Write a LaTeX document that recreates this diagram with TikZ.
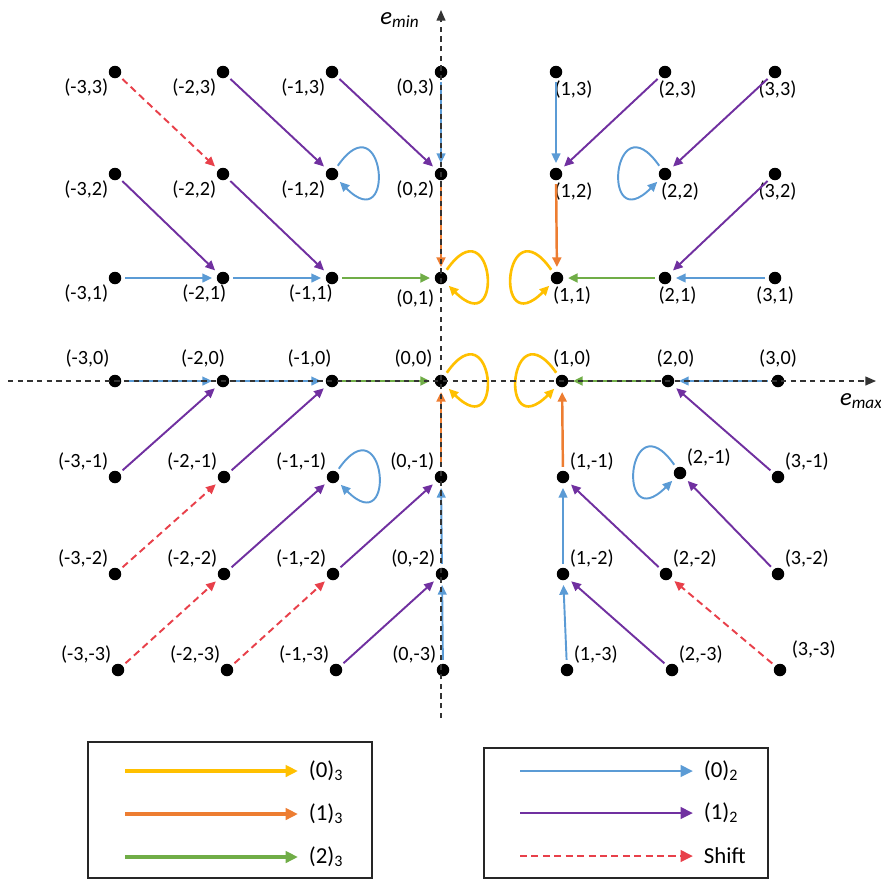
\documentclass[tikz,border=0pt]{standalone}
\usepackage{fontspec}
\setmainfont{Carlito}
\usepackage{xcolor}
\usepackage{tikz}
\usetikzlibrary{arrows.meta,positioning}
\definecolor{radixblue}{RGB}{91,155,213}
\definecolor{radixpurple}{RGB}{112,48,160}
\definecolor{radixred}{RGB}{232,64,74}
\definecolor{radixorange}{RGB}{237,125,49}
\definecolor{radixgreen}{RGB}{112,173,71}
\definecolor{radixyellow}{RGB}{255,192,0}
\tikzset{
  griddot/.style={
    circle,
    fill=black,
    inner sep=0pt,
    minimum size=0.25cm
  },
  gridlabel/.style={
    inner sep=1pt,
    font=\fontsize{11.5}{13}\selectfont
  },
  arrowbase/.style={
    -{Triangle[length=5.5pt,width=5pt]},
    line width=1.1pt,
    shorten <=2pt,
    shorten >=2.5pt
  },
  radixtwozero/.style={arrowbase, draw=radixblue},
  radixtwoone/.style={arrowbase, draw=radixpurple},
  shiftarrow/.style={arrowbase, draw=radixred, dash pattern=on 4pt off 2.5pt},
  radixthreezero/.style={arrowbase, draw=radixyellow, line width=1.5pt},
  radixthreeone/.style={arrowbase, draw=radixorange, line width=1.4pt},
  radixthreetwo/.style={arrowbase, draw=radixgreen, line width=1.6pt},
  loopright/.style={out=55, in=-45, distance=1.7cm},
  loopleft/.style={out=125, in=225, distance=1.7cm},
  axisline/.style={
    -{Triangle[length=6pt,width=5pt]},
    draw=black!80,
    line width=0.8pt,
    dash pattern=on 3pt off 2.5pt
  },
  axislabel/.style={inner sep=1pt, font=\fontsize{14}{16}\selectfont},
  legendbox/.style={draw=black!85, line width=0.9pt, inner sep=0pt},
  legendtext/.style={inner sep=2pt, anchor=west, font=\fontsize{13}{15}\selectfont},
  legendarrow/.style={
    -{Triangle[length=7pt,width=6.5pt]},
    line width=2pt,
    shorten >=4pt
  }
}

\begin{document}
\begin{tikzpicture}[x=0.02cm, y=-0.02cm]
\useasboundingbox (0,0) rectangle (881,880);

\node[griddot, label={[gridlabel]below left:(-3,3)}] (m3p3) at (115,72) {};
\node[griddot, label={[gridlabel]below left:(-2,3)}] (m2p3) at (223,72) {};
\node[griddot, label={[gridlabel]below left:(-1,3)}] (m1p3) at (332,72) {};
\node[griddot, label={[gridlabel]below left:(0,3)}] (z0p3) at (441,72) {};
\node[griddot, label={[gridlabel, xshift=0.35cm]below:(1,3)}] (p1p3) at (556,72) {};
\node[griddot, label={[gridlabel, xshift=0.25cm]below:(2,3)}] (p2p3) at (665,72) {};
\node[griddot, label={[gridlabel, xshift=0.05cm]below:(3,3)}] (p3p3) at (775,72) {};

\node[griddot, label={[gridlabel]below left:(-3,2)}] (m3p2) at (115,174) {};
\node[griddot, label={[gridlabel]below left:(-2,2)}] (m2p2) at (223,174) {};
\node[griddot, label={[gridlabel]below left:(-1,2)}] (m1p2) at (332,174) {};
\node[griddot, label={[gridlabel]below left:(0,2)}] (z0p2) at (441,174) {};
\node[griddot, label={[gridlabel, xshift=0.35cm]below:(1,2)}] (p1p2) at (556,174) {};
\node[griddot, label={[gridlabel, xshift=0.3cm]below:(2,2)}] (p2p2) at (665,174) {};
\node[griddot, label={[gridlabel, xshift=0.05cm]below:(3,2)}] (p3p2) at (775,174) {};

\node[griddot, label={[gridlabel]below left:(-3,1)}] (m3p1) at (115,278) {};
\node[griddot, label={[gridlabel, xshift=0.2cm]below left:(-2,1)}] (m2p1) at (223,278) {};
\node[griddot, label={[gridlabel, xshift=0.15cm]below left:(-1,1)}] (m1p1) at (332,278) {};
\node[griddot, label={[gridlabel, yshift=-0.1cm]below left:(0,1)}] (z0p1) at (441,278) {};
\node[griddot, label={[gridlabel, xshift=0.3cm]below:(1,1)}] (p1p1) at (557,278) {};
\node[griddot, label={[gridlabel, xshift=0.25cm]below:(2,1)}] (p2p1) at (665,278) {};
\node[griddot, label={[gridlabel]below:(3,1)}] (p3p1) at (775,278) {};

\node[griddot, label={[gridlabel, xshift=-0.55cm, yshift=0.1cm]above:(-3,0)}] (m3z0) at (115,381) {};
\node[griddot, label={[gridlabel, xshift=-0.4cm, yshift=0.1cm]above:(-2,0)}] (m2z0) at (223,381) {};
\node[griddot, label={[gridlabel, xshift=-0.45cm, yshift=0.1cm]above:(-1,0)}] (m1z0) at (332,381) {};
\node[griddot, label={[gridlabel, xshift=-0.55cm, yshift=0.1cm]above:(0,0)}] (z0z0) at (441,381) {};
\node[griddot, label={[gridlabel, xshift=0.2cm, yshift=0.1cm]above:(1,0)}] (p1z0) at (562,381) {};
\node[griddot, label={[gridlabel, xshift=0.15cm, yshift=0.1cm]above:(2,0)}] (p2z0) at (668,381) {};
\node[griddot, label={[gridlabel, yshift=0.1cm]above:(3,0)}] (p3z0) at (778,381) {};

\node[griddot, label={[gridlabel]above left:(-3,-1)}] (m3m1) at (115,477) {};
\node[griddot, label={[gridlabel]above left:(-2,-1)}] (m2m1) at (224,477) {};
\node[griddot, label={[gridlabel]above left:(-1,-1)}] (m1m1) at (333,477) {};
\node[griddot, label={[gridlabel]above left:(0,-1)}] (z0m1) at (441,477) {};
\node[griddot, label={[gridlabel]above right:(1,-1)}] (p1m1) at (563,477) {};
\node[griddot, label={[gridlabel]above right:(2,-1)}] (p2m1) at (680,473) {};
\node[griddot, label={[gridlabel]above right:(3,-1)}] (p3m1) at (778,477) {};

\node[griddot, label={[gridlabel]above left:(-3,-2)}] (m3m2) at (115,574) {};
\node[griddot, label={[gridlabel]above left:(-2,-2)}] (m2m2) at (224,574) {};
\node[griddot, label={[gridlabel]above left:(-1,-2)}] (m1m2) at (333,574) {};
\node[griddot, label={[gridlabel]above left:(0,-2)}] (z0m2) at (442,574) {};
\node[griddot, label={[gridlabel]above right:(1,-2)}] (p1m2) at (563,574) {};
\node[griddot, label={[gridlabel]above right:(2,-2)}] (p2m2) at (666,574) {};
\node[griddot, label={[gridlabel]above right:(3,-2)}] (p3m2) at (778,574) {};

\node[griddot, label={[gridlabel]above left:(-3,-3)}] (m3m3) at (118,670) {};
\node[griddot, label={[gridlabel]above left:(-2,-3)}] (m2m3) at (227,670) {};
\node[griddot, label={[gridlabel]above left:(-1,-3)}] (m1m3) at (336,670) {};
\node[griddot, label={[gridlabel]above left:(0,-3)}] (z0m3) at (443,670) {};
\node[griddot, label={[gridlabel]above right:(1,-3)}] (p1m3) at (567,670) {};
\node[griddot, label={[gridlabel]above right:(2,-3)}] (p2m3) at (672,670) {};
\node[griddot, label={[gridlabel, xshift=0.1cm, yshift=0.1cm]above right:(3,-3)}] (p3m3) at (780,670) {};

\draw[radixtwozero] (z0p3) -- (z0p2);
\draw[radixtwozero] (p1p3) -- (p1p2);
\draw[radixtwozero] (m3p1) -- (m2p1);
\draw[radixtwozero] (m2p1) -- (m1p1);
\draw[radixtwozero] (p3p1) -- (p2p1);
\draw[radixtwozero] (m3z0) -- (m2z0);
\draw[radixtwozero] (m2z0) -- (m1z0);
\draw[radixtwozero] (p3z0) -- (p2z0);
\draw[radixtwozero] (z0m3) -- (z0m2);
\draw[radixtwozero] (z0m2) -- (z0m1);
\draw[radixtwozero] (p1m3) -- (p1m2);
\draw[radixtwozero] (p1m2) -- (p1m1);
\draw[radixtwozero] (m1p2) to[loopright] (m1p2);
\draw[radixtwozero] (p2p2) to[loopleft] (p2p2);
\draw[radixtwozero] (m1m1) to[loopright] (m1m1);
\draw[radixtwozero] (p2m1) to[loopleft] (p2m1);

\draw[radixtwoone] (m2p3) -- (m1p2);
\draw[radixtwoone] (m1p3) -- (z0p2);
\draw[radixtwoone] (m3p2) -- (m2p1);
\draw[radixtwoone] (m2p2) -- (m1p1);
\draw[radixtwoone] (p2p3) -- (p1p2);
\draw[radixtwoone] (p3p3) -- (p2p2);
\draw[radixtwoone] (p3p2) -- (p2p1);
\draw[radixtwoone] (m3m1) -- (m2z0);
\draw[radixtwoone] (m2m1) -- (m1z0);
\draw[radixtwoone] (m2m2) -- (m1m1);
\draw[radixtwoone] (m1m2) -- (z0m1);
\draw[radixtwoone] (m1m3) -- (z0m2);
\draw[radixtwoone] (p3m1) -- (p2z0);
\draw[radixtwoone] (p2m2) -- (p1m1);
\draw[radixtwoone] (p3m2) -- (p2m1);
\draw[radixtwoone] (p2m3) -- (p1m2);

\draw[shiftarrow] (m3p3) -- (m2p2);
\draw[shiftarrow] (m3m2) -- (m2m1);
\draw[shiftarrow] (m3m3) -- (m2m2);
\draw[shiftarrow] (m2m3) -- (m1m2);
\draw[shiftarrow] (p3m3) -- (p2m2);

\draw[radixthreeone] (z0p2) -- (z0p1);
\draw[radixthreeone] (p1p2) -- (p1p1);
\draw[radixthreeone] (z0m1) -- (z0z0);
\draw[radixthreeone] (p1m1) -- (p1z0);

\draw[radixthreetwo] (m1p1) -- (z0p1);
\draw[radixthreetwo] (p2p1) -- (p1p1);
\draw[radixthreetwo] (m1z0) -- (z0z0);
\draw[radixthreetwo] (p2z0) -- (p1z0);

\draw[radixthreezero] (z0p1) to[loopright] (z0p1);
\draw[radixthreezero] (p1p1) to[loopleft] (p1p1);
\draw[radixthreezero] (z0z0) to[loopright] (z0z0);
\draw[radixthreezero] (p1z0) to[loopleft] (p1z0);

\coordinate (xstart) at (8,381);
\coordinate (xend) at (876,381);
\coordinate (ystart) at (441,718);
\coordinate (yend) at (441,10);
\draw[axisline] (xstart) -- (xend);
\draw[axisline] (ystart) -- (yend);
\node[axislabel] (emin) at (400,20) {\textit{e}\textsubscript{\textit{min}}};
\node[axislabel, anchor=west] (emax) at (838,401) {\textit{e}\textsubscript{\textit{max}}};

\node[legendbox, minimum width=5.68cm, minimum height=2.72cm] (keythree) at (230,810) {};
\node[legendbox, minimum width=5.68cm, minimum height=2.6cm] (keytwo) at (626,813) {};

\coordinate (kzerothreestart) at (125,771);
\coordinate (konethreestart) at (125,814);
\coordinate (ktwothreestart) at (125,857);
\node[legendtext, right=3.6cm of kzerothreestart] (kzerothree) {(0)\textsubscript{3}};
\node[legendtext, right=3.6cm of konethreestart] (konethree) {(1)\textsubscript{3}};
\node[legendtext, right=3.6cm of ktwothreestart] (ktwothree) {(2)\textsubscript{3}};
\draw[legendarrow, draw=radixyellow] (kzerothreestart) -- (kzerothree.west);
\draw[legendarrow, draw=radixorange] (konethreestart) -- (konethree.west);
\draw[legendarrow, draw=radixgreen] (ktwothreestart) -- (ktwothree.west);

\coordinate (kzerotwostart) at (520,771);
\coordinate (konetwostart) at (520,813);
\coordinate (kshiftstart) at (520,856);
\node[legendtext, right=3.6cm of kzerotwostart] (kzerotwo) {(0)\textsubscript{2}};
\node[legendtext, right=3.6cm of konetwostart] (konetwo) {(1)\textsubscript{2}};
\node[legendtext, right=3.6cm of kshiftstart] (kshift) {Shift};
\draw[legendarrow, line width=1.4pt, draw=radixblue] (kzerotwostart) -- (kzerotwo.west);
\draw[legendarrow, line width=1.4pt, draw=radixpurple] (konetwostart) -- (konetwo.west);
\draw[legendarrow, line width=1.4pt, draw=radixred, dash pattern=on 4pt off 2.5pt] (kshiftstart) -- (kshift.west);
\end{tikzpicture}
\end{document}
